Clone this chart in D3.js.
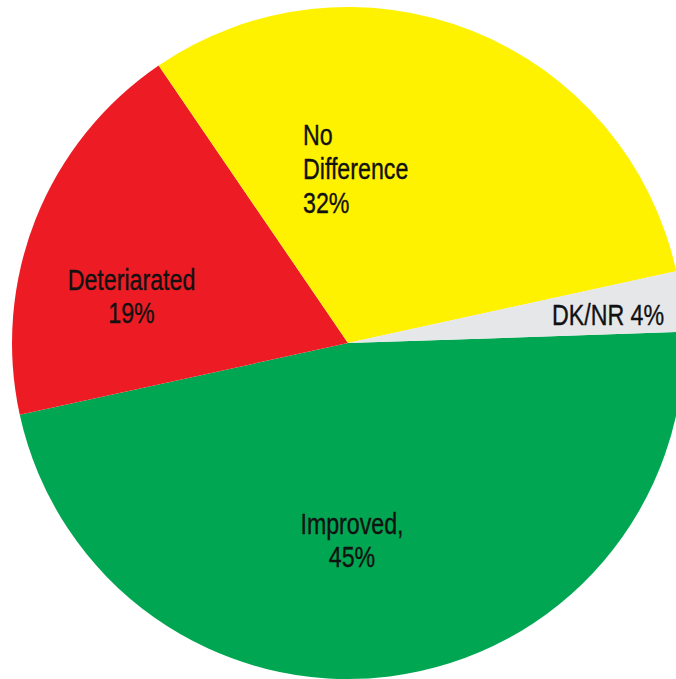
<!DOCTYPE html>
<html>
<head>
<meta charset="utf-8">
<script src="https://cdn.jsdelivr.net/npm/d3@7"></script>
<style>
  html, body { margin: 0; padding: 0; background: #ffffff; }
  svg { display: block; }
</style>
</head>
<body>
<div id="chart"></div>
<script>
// Categories in drawing order (clockwise, starting just above 3 o'clock)
const categories = ["Improved", "Deteriarated", "No Difference", "DK/NR"];
// Slice shares as drawn in the picture (degrees of arc / 3.6)
const shares = [47.1, 18.9, 31.1, 2.9];
// Label texts as printed on the chart
const labelLines = [
  ["Improved,", "45%"],
  ["Deteriarated", "19%"],
  ["No", "Difference", "32%"],
  ["DK/NR 4%"]
];
const colors = ["#00a651", "#ed1c24", "#fff200", "#e6e7e8"];

const W = 676, H = 679;
const cx = 348, cy = 343, R = 336;
const startDeg = 88.1;

const svg = d3.select("#chart").append("svg")
  .attr("width", W).attr("height", H);

const data = categories.map((c, i) => ({ cat: c, value: shares[i], lines: labelLines[i], color: colors[i] }));

const pie = d3.pie()
  .sort(null)
  .value(d => d.value)
  .startAngle(startDeg * Math.PI / 180)
  .endAngle(startDeg * Math.PI / 180 + 2 * Math.PI);

const arc = d3.arc().innerRadius(0).outerRadius(R);

const g = svg.append("g").attr("transform", `translate(${cx},${cy})`);
const arcs = pie(data);

g.selectAll("path.slice")
  .data(arcs)
  .join("path")
  .attr("class", "slice")
  .attr("d", arc)
  .attr("fill", d => d.data.color);

// Label layout (positions relative to page), separate from data
const labelLayout = {
  "Improved":      { x: 352, y: 533.5, anchor: "middle", lh: 33.5 },
  "Deteriarated":  { x: 131.5, y: 289.5, anchor: "middle", lh: 33.8 },
  "No Difference": { x: 303, y: 145.3, anchor: "start", lh: 34 },
  "DK/NR":         { x: 552, y: 325.4, anchor: "start", lh: 34 }
};

const fontSize = 29, squeeze = 0.8;
arcs.forEach(a => {
  const L = labelLayout[a.data.cat];
  a.data.lines.forEach((line, k) => {
    svg.append("text")
      .attr("transform", `translate(${L.x},${L.y + k * L.lh}) scale(${squeeze},1)`)
      .attr("text-anchor", L.anchor)
      .attr("font-family", "'Liberation Sans', Arial, sans-serif")
      .attr("font-size", fontSize)
      .attr("fill", "#111111")
      .attr("stroke", "#111111")
      .attr("stroke-width", 0.35)
      .text(line);
  });
});
</script>
</body>
</html>
